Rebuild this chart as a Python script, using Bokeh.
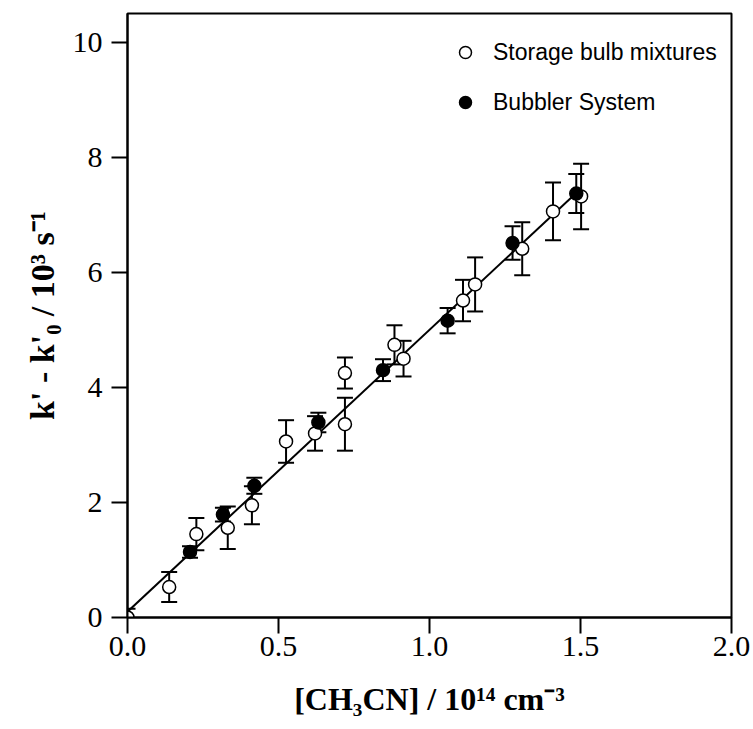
from bokeh.plotting import figure
from bokeh.models import (ColumnDataSource, Whisker, TeeHead, Legend, LegendItem,
                          FixedTicker, NumeralTickFormatter, Range1d)
from bokeh.embed import file_html
from bokeh.resources import INLINE

# ---------------- data ----------------
open_x = [0.0, 0.138, 0.228, 0.332, 0.412, 0.525, 0.621, 0.72, 0.72, 0.884, 0.914, 1.111, 1.151, 1.307, 1.409, 1.502]
open_y = [0.0, 0.53, 1.45, 1.56, 1.95, 3.06, 3.20, 3.36, 4.25, 4.74, 4.50, 5.51, 5.79, 6.41, 7.06, 7.32]
open_err = [0.15, 0.26, 0.28, 0.37, 0.33, 0.37, 0.30, 0.46, 0.27, 0.34, 0.31, 0.36, 0.47, 0.46, 0.50, 0.57]

filled_x = [0.207, 0.316, 0.42, 0.632, 0.846, 1.06, 1.275, 1.486]
filled_y = [1.14, 1.79, 2.29, 3.39, 4.30, 5.16, 6.51, 7.37]
filled_err = [0.10, 0.12, 0.14, 0.17, 0.19, 0.22, 0.29, 0.34]

fit_x = [0.0, 1.5]
fit_y = [0.10, 7.45]

x_ticks = [0.0, 0.5, 1.0, 1.5, 2.0]
y_ticks = [0, 2, 4, 6, 8, 10]

legend_labels = ["Storage bulb mixtures", "Bubbler System"]
x_label = "[CH\u2083CN] / 10\u00b9\u2074 cm\u207b\u00b3"
y_label = "k' - k'\u2080 / 10\u00b3 s\u207b\u00b9"

# ---------------- figure ----------------
SERIF = "Liberation Serif"
SANS = "Liberation Sans"

p = figure(width=753, height=729, output_backend="svg", toolbar_location=None,
           x_range=Range1d(0, 2.0), y_range=Range1d(0, 10.5),
           min_border_left=127, min_border_right=22, min_border_top=13, min_border_bottom=112)
p.background_fill_color = "white"
p.border_fill_color = "white"
p.outline_line_color = "black"
p.outline_line_width = 2
p.xgrid.visible = False
p.ygrid.visible = False

for ax in (p.xaxis[0], p.yaxis[0]):
    ax.axis_line_width = 2
    ax.axis_line_color = "black"
    ax.major_tick_line_width = 2
    ax.major_tick_line_color = "black"
    ax.major_tick_out = 16
    ax.major_tick_in = 0
    ax.minor_tick_out = 0
    ax.minor_tick_in = 0
    ax.major_label_text_font = SERIF
    ax.major_label_text_font_size = "30px"
    ax.major_label_text_color = "black"
    ax.axis_label_text_font = SERIF
    ax.axis_label_text_font_style = "bold"
    ax.axis_label_text_color = "black"

p.xaxis[0].ticker = FixedTicker(ticks=x_ticks)
p.xaxis[0].formatter = NumeralTickFormatter(format="0.0")
p.xaxis[0].major_label_standoff = 3
p.xaxis[0].axis_label = x_label
p.xaxis[0].axis_label_text_font_size = "32px"
p.xaxis[0].axis_label_standoff = 22

p.yaxis[0].ticker = FixedTicker(ticks=y_ticks)
p.yaxis[0].formatter = NumeralTickFormatter(format="0")
p.yaxis[0].major_label_standoff = 9
p.yaxis[0].axis_label = y_label
p.yaxis[0].axis_label_text_font_size = "34px"
p.yaxis[0].axis_label_standoff = 9

# ---------------- glyphs ----------------
src_open = ColumnDataSource(dict(x=open_x, y=open_y,
                                 lo=[v - e for v, e in zip(open_y, open_err)],
                                 hi=[v + e for v, e in zip(open_y, open_err)]))
src_fill = ColumnDataSource(dict(x=filled_x, y=filled_y,
                                 lo=[v - e for v, e in zip(filled_y, filled_err)],
                                 hi=[v + e for v, e in zip(filled_y, filled_err)]))

for src in (src_open, src_fill):
    w = Whisker(source=src, base="x", lower="lo", upper="hi", line_width=2, line_color="black",
                upper_head=TeeHead(size=16, line_width=2, line_color="black"),
                lower_head=TeeHead(size=16, line_width=2, line_color="black"))
    p.add_layout(w)

p.line(fit_x, fit_y, line_color="black", line_width=2)

r_open = p.scatter("x", "y", source=src_open, marker="circle", size=13,
                   fill_color="white", line_color="black", line_width=1.5)
r_fill = p.scatter("x", "y", source=src_fill, marker="circle", size=13,
                   fill_color="black", line_color="black", line_width=1.5)

# ---------------- legend (two single-item legends) ----------------
for i, (lab, rend) in enumerate(zip(legend_labels, [r_open, r_fill])):
    lg = Legend(items=[LegendItem(label=lab, renderers=[rend])],
                location=(323, 550 - 50 * i), padding=0, margin=0, spacing=0,
                glyph_width=30, glyph_height=30, label_standoff=13,
                label_text_font=SANS, label_text_font_size="23px",
                label_text_color="black",
                border_line_alpha=0, background_fill_alpha=0)
    p.add_layout(lg)

open("out.html", "w").write(file_html(p, INLINE))
